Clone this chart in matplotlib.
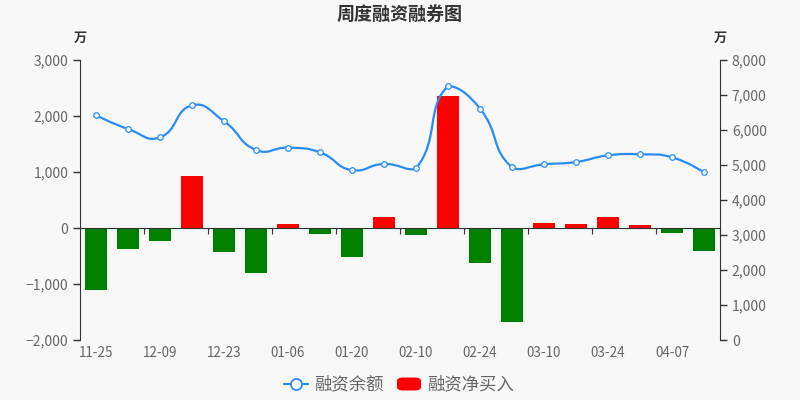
import numpy as np
import matplotlib
matplotlib.use("Agg")
import matplotlib.pyplot as plt
from matplotlib.path import Path
from matplotlib.patches import PathPatch, FancyBboxPatch
from matplotlib.lines import Line2D
from matplotlib.ticker import FuncFormatter

plt.rcParams['font.family'] = ['Noto Sans CJK SC', 'DejaVu Sans']
plt.rcParams['axes.unicode_minus'] = True

# 数据 (万)
weeks = ['11-25', '12-02', '12-09', '12-16', '12-23', '12-30', '01-06', '01-13',
         '01-20', '01-27', '02-10', '02-17', '02-24', '03-03', '03-10', '03-17',
         '03-24', '03-31', '04-07', '04-14']
label_every = 2
net_buy = [-1100, -375, -240, 930, -435, -805, 70, -105, -520, 195,
           -120, 2365, -625, -1675, 95, 75, 195, 45, -90, -405]
balance = [6420, 6030, 5790, 6705, 6250, 5430, 5495, 5360, 4850, 5030,
           4905, 7255, 6610, 4935, 5020, 5085, 5275, 5305, 5220, 4790]

bg = '#f8f8f8'
blue = '#2a8cf3'
text_col = '#666666'
axis_col = '#333333'

fig = plt.figure(figsize=(8, 4), dpi=100, facecolor=bg)
ax = fig.add_axes([0.1, 0.15, 0.8, 0.7])
ax.set_facecolor(bg)
ax2 = ax.twinx()

x = np.arange(len(weeks))

# 柱子
colors = ['#ff0000' if v > 0 else '#008000' for v in net_buy]
ax.bar(x, net_buy, width=0.7, color=colors, zorder=2)

ax.set_xlim(-0.5, len(weeks) - 0.5)
ax.set_ylim(-2000, 3000)
ax.set_yticks([-2000, -1000, 0, 1000, 2000, 3000])
ax2.set_ylim(0, 8000)
ax2.set_yticks(range(0, 8001, 1000))

fmt = FuncFormatter(lambda v, p: f'{int(v):,}'.replace('-', '\u2212'))
ax.yaxis.set_major_formatter(fmt)
ax2.yaxis.set_major_formatter(fmt)

for a in (ax, ax2):
    a.spines['top'].set_visible(False)
    a.tick_params(axis='y', colors=axis_col, labelcolor=text_col, labelsize=10,
                  length=5, width=1)
ax.spines['right'].set_visible(False)
ax2.spines['left'].set_visible(False)
ax2.spines['bottom'].set_visible(False)
ax.spines['left'].set_color(axis_col)
ax2.spines['right'].set_color(axis_col)

# x轴线在0处
ax.spines['bottom'].set_position(('data', 0))
ax.spines['bottom'].set_color(axis_col)
ax.set_xticks(np.arange(1.5, len(weeks), label_every))
ax.set_xticklabels([])
ax.tick_params(axis='x', direction='out', length=4, colors=axis_col)

for i in range(0, len(weeks), label_every):
    ax.text(i, -0.045, weeks[i], transform=ax.get_xaxis_transform(),
            ha='center', va='center', fontsize=9.7, color=text_col)

# 平滑曲线 (类似 echarts 的 smooth, 按像素距离加权并限制在范围内)
sx, sy = 32.0, 0.035  # 每单位对应的像素
pts = np.column_stack([x, balance]).astype(float)
n = len(pts)
smooth = 0.5
ymin, ymax = pts[:, 1].min(), pts[:, 1].max()
cp_in = pts.copy()
cp_out = pts.copy()
for i in range(1, n - 1):
    prev, cur, nxt = pts[i - 1], pts[i], pts[i + 1]
    v = (nxt - prev) * smooth
    d0 = np.hypot((cur[0] - prev[0]) * sx, (cur[1] - prev[1]) * sy)
    d1 = np.hypot((nxt[0] - cur[0]) * sx, (nxt[1] - cur[1]) * sy)
    s = d0 + d1
    cp_in[i] = cur - v * d0 / s
    cp_out[i] = cur + v * d1 / s
cp_in[:, 1] = np.clip(cp_in[:, 1], ymin, ymax)
cp_out[:, 1] = np.clip(cp_out[:, 1], ymin, ymax)

verts = [pts[0]]
codes = [Path.MOVETO]
for i in range(n - 1):
    verts += [cp_out[i], cp_in[i + 1], pts[i + 1]]
    codes += [Path.CURVE4] * 3
ax2.add_patch(PathPatch(Path(verts, codes), facecolor='none', edgecolor=blue,
                        lw=1.6, zorder=3))
ax2.plot(x, balance, linestyle='none', marker='o', markersize=4,
         markerfacecolor='white', markeredgecolor=blue, markeredgewidth=0.9, zorder=4)

# 标题和单位
fig.text(0.5, 0.963, '周度融资融券图', ha='center', va='center', fontsize=13,
         fontweight='bold', color=axis_col)
fig.text(0.1, 0.905, '万', ha='center', va='center', fontsize=9.5,
         fontweight='bold', color=axis_col)
fig.text(0.9, 0.905, '万', ha='center', va='center', fontsize=9.5,
         fontweight='bold', color=axis_col)

# 图例
ly = 1 - 384 / 400
fig.add_artist(Line2D([284 / 800, 308 / 800], [ly, ly], color=blue, lw=1.5,
                      transform=fig.transFigure))
fig.add_artist(Line2D([296 / 800], [ly], linestyle='none', marker='o', markersize=8,
                      markerfacecolor='white', markeredgecolor=blue,
                      markeredgewidth=1.3, transform=fig.transFigure))
fig.text(314 / 800, ly, '融资余额', ha='left', va='center', fontsize=12.5, color=text_col)
fig.add_artist(FancyBboxPatch((397 / 800, ly - 6.5 / 400), 24 / 800, 13 / 400,
                              boxstyle='round,pad=0,rounding_size=0.008',
                              facecolor='#ff0000', edgecolor='none',
                              transform=fig.transFigure))
fig.text(427 / 800, ly, '融资净买入', ha='left', va='center', fontsize=12.5, color=text_col)

fig.savefig('out.png', dpi=100, facecolor=bg)
